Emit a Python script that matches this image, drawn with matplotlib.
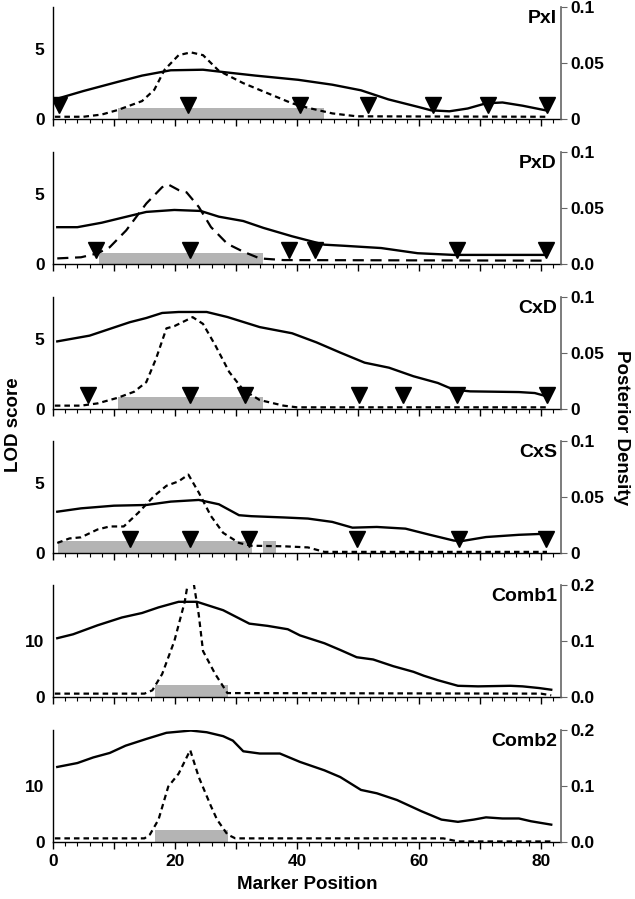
import numpy as np
import matplotlib
matplotlib.use("Agg")
import matplotlib.pyplot as plt
from matplotlib.ticker import MultipleLocator, FuncFormatter

plt.rcParams['font.family'] = ['Liberation Sans', 'DejaVu Sans']
plt.rcParams['font.weight'] = 'bold'

# ---- data ----
# PxI
pxi_lod_x = [0.3, 5, 10.6, 14.6, 19.3, 24.6, 28, 33.2, 40.2, 45.8, 50.5, 55, 60, 62, 65, 68, 71, 73.7, 77, 81]
pxi_lod = [1.4, 2.0, 2.65, 3.1, 3.48, 3.52, 3.35, 3.1, 2.8, 2.45, 2.05, 1.4, 0.85, 0.62, 0.55, 0.75, 1.12, 1.18, 0.95, 0.6]
pxi_post_x = [0.3, 5, 8, 10.6, 14.6, 16.6, 18.3, 20.6, 22.6, 24.6, 25.9, 27.2, 31.2, 35.2, 39.2, 41.8, 45.8, 49.8, 81]
pxi_post = [0.002, 0.002, 0.004, 0.008, 0.016, 0.026, 0.044, 0.057, 0.0595, 0.057, 0.050, 0.043, 0.032, 0.023, 0.014, 0.010, 0.005, 0.0024, 0.002]
pxi_ci = [(10.6, 44.5)]
pxi_ci_h = 0.8
pxi_markers = [1.0, 22.2, 40.5, 51.7, 62.3, 71.4, 81.0]

# PxD
pxd_lod_x = [0.7, 4, 8, 11.3, 15.3, 19.9, 24.2, 27.2, 31.2, 34.5, 39.2, 44.5, 47.8, 53.8, 59.8, 65.7, 81]
pxd_lod = [2.63, 2.63, 2.95, 3.3, 3.72, 3.86, 3.79, 3.38, 3.07, 2.58, 1.98, 1.38, 1.3, 1.14, 0.77, 0.65, 0.65]
pxd_post_x = [0.7, 4.6, 7.3, 9.3, 12, 15.3, 17.9, 18.9, 20.6, 21.9, 23.9, 25.9, 28.6, 31.2, 33.9, 37.8, 81]
pxd_post = [0.005, 0.006, 0.0095, 0.015, 0.030, 0.054, 0.0686, 0.071, 0.066, 0.064, 0.051, 0.033, 0.018, 0.011, 0.005, 0.0035, 0.003]
pxd_ci = [(7.6, 34.4)]
pxd_ci_h = 0.82
pxd_markers = [7.1, 22.4, 38.7, 43.0, 66.3, 80.9]

# CxD
cxd_lod_x = [0.7, 6, 9.3, 12.6, 15.3, 17.9, 20.6, 25.2, 28.6, 33.9, 39.2, 43.2, 47.1, 51.1, 55.1, 59.1, 63.1, 65.7, 68.4, 76.4, 79, 81]
cxd_lod = [4.83, 5.24, 5.72, 6.2, 6.5, 6.86, 6.93, 6.93, 6.57, 5.85, 5.41, 4.76, 4.03, 3.31, 2.95, 2.34, 1.86, 1.38, 1.26, 1.21, 1.14, 0.9]
cxd_post_x = [0.3, 4.6, 7.3, 10.6, 13.3, 15.3, 16.9, 18.6, 19.9, 22.9, 24.6, 26.6, 28.9, 31.2, 33.9, 37.8, 40, 81]
cxd_post = [0.003, 0.003, 0.005, 0.010, 0.0154, 0.024, 0.045, 0.072, 0.074, 0.082, 0.076, 0.057, 0.033, 0.017, 0.008, 0.003, 0.0015, 0.0015]
cxd_ci = [(10.6, 34.4)]
cxd_ci_h = 0.85
cxd_markers = [5.8, 22.4, 31.5, 50.1, 57.4, 66.3, 81.0]

# CxS
cxs_lod_x = [0.7, 4.6, 10, 15.3, 19.3, 23.9, 27.2, 30.5, 32.5, 37.8, 41.8, 45.8, 49.1, 53.1, 57.8, 61.8, 65.7, 67, 71, 76.4, 81]
cxs_lod = [2.95, 3.19, 3.38, 3.43, 3.67, 3.79, 3.48, 2.7, 2.63, 2.54, 2.46, 2.22, 1.81, 1.86, 1.74, 1.3, 0.89, 0.85, 1.14, 1.3, 1.38]
cxs_post_x = [0.7, 2.7, 4.6, 7.3, 9.3, 11.6, 14, 16.6, 18.6, 20.6, 22.2, 23.9, 25.9, 27.9, 30.5, 32.5, 37.8, 41.8, 44.5, 81]
cxs_post = [0.009, 0.013, 0.014, 0.021, 0.0237, 0.0237, 0.036, 0.051, 0.060, 0.064, 0.070, 0.054, 0.033, 0.018, 0.009, 0.0065, 0.006, 0.005, 0.001, 0.001]
cxs_ci = [(0.8, 32.7), (34.4, 36.5)]
cxs_ci_h = 0.85
cxs_markers = [12.7, 22.4, 32.1, 49.9, 66.5, 80.9]

# Comb1
comb1_lod_x = [0.7, 3.3, 7.3, 11.3, 14.6, 17.3, 20.6, 23.6, 27.9, 32.2, 35.2, 38.5, 40.5, 44.5, 47.1, 49.8, 52.5, 55.8, 59.1, 60.8, 63.1, 66.4, 69.7, 75, 77, 79.7, 81.7]
comb1_lod = [10.5, 11.2, 12.8, 14.2, 15.0, 16.0, 17.0, 17.0, 15.5, 13.1, 12.7, 12.1, 11.0, 9.6, 8.4, 7.1, 6.7, 5.5, 4.5, 3.8, 3.0, 2.0, 1.9, 2.0, 1.9, 1.6, 1.3]
comb1_post_x = [0.3, 15, 16.3, 17.9, 19.9, 21.6, 22.6, 23.9, 24.6, 26.6, 28.6, 80, 81.7]
comb1_post = [0.006, 0.006, 0.012, 0.041, 0.100, 0.170, 0.235, 0.147, 0.082, 0.041, 0.007, 0.006, 0.003]
comb1_ci = [(16.8, 28.7)]
comb1_ci_h = 2.15
comb1_markers = []

# Comb2
comb2_lod_x = [0.7, 4, 6.6, 9.3, 11.9, 15.3, 18.6, 22.6, 25.2, 27.9, 29.5, 31.2, 33.9, 37.2, 40.5, 44.5, 47.1, 50.5, 53.1, 56.4, 60.4, 63.7, 66.4, 69, 71, 73.7, 76.4, 78.4, 81.7]
comb2_lod = [13.4, 14.1, 15.1, 15.9, 17.2, 18.4, 19.5, 19.9, 19.6, 18.9, 18.1, 16.2, 15.8, 15.8, 14.3, 12.8, 11.6, 9.3, 8.7, 7.5, 5.5, 4.0, 3.6, 4.0, 4.4, 4.2, 4.2, 3.7, 3.1]
comb2_post_x = [0.3, 15, 15.9, 17.3, 18.9, 20.6, 22.5, 23.9, 25.9, 26.9, 28.6, 29.9, 64, 66.4, 81.7]
comb2_post = [0.0065, 0.0065, 0.0135, 0.04, 0.099, 0.122, 0.164, 0.116, 0.064, 0.04, 0.0135, 0.0065, 0.0065, 0.001, 0.001]
comb2_ci = [(16.8, 28.7)]
comb2_ci_h = 2.06
comb2_markers = []

names = ["PxI", "PxD", "CxD", "CxS", "Comb1", "Comb2"]
lod_x = [pxi_lod_x, pxd_lod_x, cxd_lod_x, cxs_lod_x, comb1_lod_x, comb2_lod_x]
lod_y = [pxi_lod, pxd_lod, cxd_lod, cxs_lod, comb1_lod, comb2_lod]
post_x = [pxi_post_x, pxd_post_x, cxd_post_x, cxs_post_x, comb1_post_x, comb2_post_x]
post_y = [pxi_post, pxd_post, cxd_post, cxs_post, comb1_post, comb2_post]
cis = [pxi_ci, pxd_ci, cxd_ci, cxs_ci, comb1_ci, comb2_ci]
ci_h = [pxi_ci_h, pxd_ci_h, cxd_ci_h, cxs_ci_h, comb1_ci_h, comb2_ci_h]
markers = [pxi_markers, pxd_markers, cxd_markers, cxs_markers, comb1_markers, comb2_markers]

lod_max = [8, 8, 8, 8, 20, 20]
lod_ticks = [[0, 5]] * 4 + [[0, 10]] * 2
post_max = [0.1, 0.1, 0.1, 0.1, 0.2, 0.2]
post_ticks = [[0, 0.05, 0.1]] * 4 + [[0, 0.1, 0.2]] * 2
post_labels = [["0", "0.05", "0.1"], ["0.0", "0.05", "0.1"], ["0", "0.05", "0.1"],
               ["0", "0.05", "0.1"], ["0.0", "0.1", "0.2"], ["0.0", "0.1", "0.2"]]
dash_styles = [(0, (2.5, 1.8)), (0, (5, 3)), (0, (2.5, 1.8)), (0, (2.5, 1.8)), (0, (2.5, 1.8)), (0, (2.5, 1.8))]

W, H = 635, 899
fig = plt.figure(figsize=(W / 100, H / 100), dpi=100)

tops = [7, 152, 297, 441, 585, 730]
ph = 112
left, right = 53, 561

for i in range(6):
    ax = fig.add_axes([left / W, 1 - (tops[i] + ph) / H, (right - left) / W, ph / H])
    ax2 = ax.twinx()

    for (a, b) in cis[i]:
        ax.bar(a, ci_h[i], width=b - a, align='edge', color='#b4b4b4', zorder=1)
    ax.plot(lod_x[i], lod_y[i], color='black', lw=1.7, zorder=3)
    ax2.plot(post_x[i], post_y[i], color='black', lw=1.6, linestyle=dash_styles[i])
    if markers[i]:
        ax.plot(markers[i], [1.0] * len(markers[i]), linestyle='none', marker='v',
                markersize=11, color='black', zorder=4)

    ax.set_xlim(0, 83.3)
    ax.set_ylim(0, lod_max[i])
    ax2.set_ylim(0, post_max[i])

    ax.set_yticks(lod_ticks[i])
    ax2.set_yticks(post_ticks[i])
    ax2.set_yticklabels(post_labels[i])

    ax.xaxis.set_major_locator(MultipleLocator(10))
    ax.xaxis.set_minor_locator(MultipleLocator(2))
    if i == 5:
        ax.xaxis.set_major_formatter(FuncFormatter(lambda v, p: "%d" % v if v % 20 == 0 else ""))
        ax.set_xlabel("Marker Position", fontsize=13.5, fontweight='bold', labelpad=5)
    else:
        ax.set_xticklabels([])

    for a in (ax, ax2):
        a.spines['top'].set_visible(False)
    ax2.spines['left'].set_visible(False)
    ax2.spines['bottom'].set_visible(False)
    ax.spines['right'].set_visible(False)
    ax2.spines['right'].set_color('#666666')
    ax2.spines['right'].set_linewidth(1.2)
    ax.spines['left'].set_linewidth(1.0)
    ax.spines['bottom'].set_linewidth(1.0)

    ax.tick_params(axis='y', length=0, labelsize=12.5, pad=6)
    ax.tick_params(axis='x', which='major', length=5, direction='out', labelsize=12.5, width=1)
    ax.tick_params(axis='x', which='minor', length=3, direction='out', width=0.8)
    ax2.tick_params(axis='y', length=4, color='#666666', labelsize=12.5, pad=3)

    ax.text(0.992, 0.90, names[i], transform=ax.transAxes, ha='right', va='center',
            fontsize=14, fontweight='bold')

fig.text(0.022, 1 - 425 / H, "LOD score", rotation=90, ha='center', va='center',
         fontsize=13.5, fontweight='bold')
fig.text(0.978, 1 - 427 / H, "Posterior Density", rotation=-90, ha='center', va='center',
         fontsize=13.5, fontweight='bold')

fig.savefig("out.png", dpi=100)
